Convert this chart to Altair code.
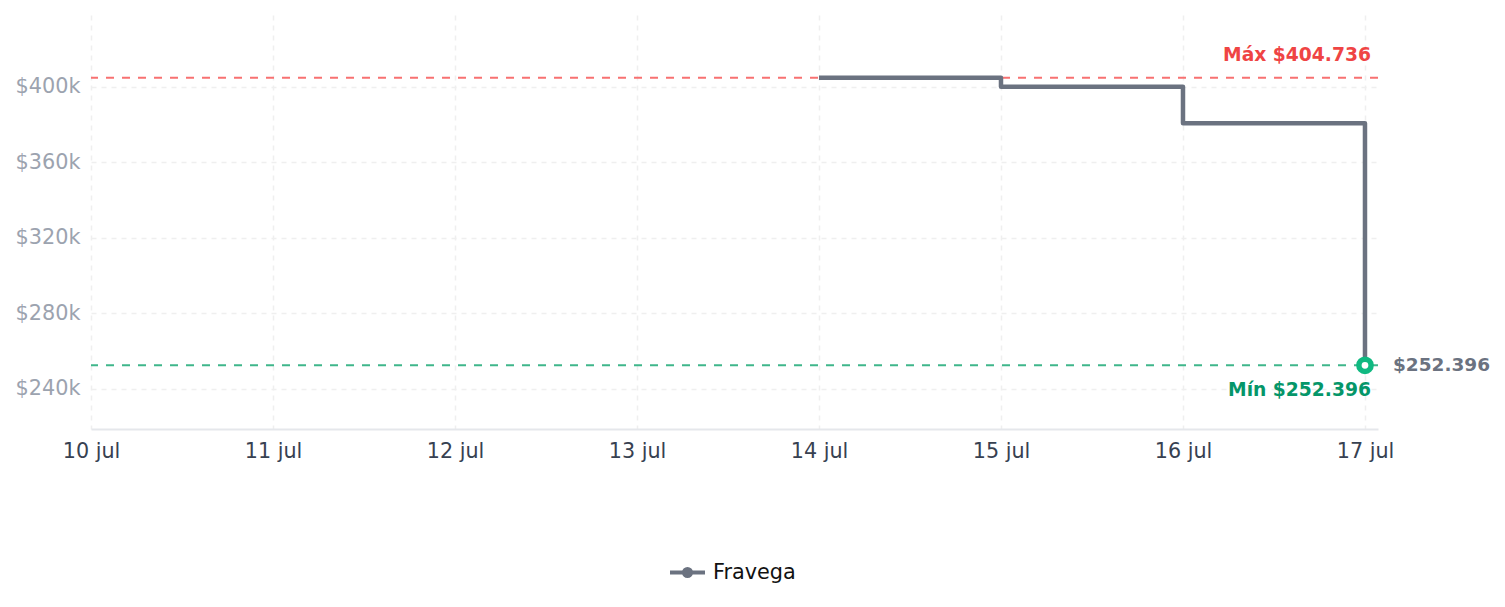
import altair as alt
import pandas as pd

# ---- data ----
dates = ["2024-07-14", "2024-07-15", "2024-07-16", "2024-07-17"]
prices = [404736, 400000, 380600, 252396]
stores = ["Fravega", "Fravega", "Fravega", "Fravega"]
y_ticks = [240000, 280000, 320000, 360000, 400000]
x_days = [10, 11, 12, 13, 14, 15, 16, 17]
y_domain = [218650, 438000]


def fmt_ars(v):
    return "$" + f"{v:,}".replace(",", ".")


df = pd.DataFrame({"date": dates, "price": prices, "store": stores})
max_v = max(prices)
min_v = min(prices)
last_date = dates[-1]
min_date = dates[prices.index(min_v)]

max_df = pd.DataFrame({"date": [last_date], "price": [max_v], "label": ["Máx " + fmt_ars(max_v)]})
min_df = pd.DataFrame({"date": [last_date], "price": [min_v], "label": ["Mín " + fmt_ars(min_v)]})
pt_df = pd.DataFrame({"date": [min_date], "price": [min_v], "label": [fmt_ars(prices[-1])]})

FONT = "DejaVu Sans"

x_scale = alt.Scale(
    type="utc",
    domain=[
        alt.DateTime(year=2024, month=7, date=10, utc=True),
        alt.DateTime(year=2024, month=7, date=17, hours=1, minutes=43, utc=True),
    ],
)
y_scale = alt.Scale(domain=y_domain, zero=False, nice=False)

x_axis = alt.Axis(
    values=[alt.DateTime(year=2024, month=7, date=d, utc=True) for d in x_days],
    labelExpr="utcFormat(datum.value, '%-d') + ' jul'",
    labelFontSize=20.7,
    labelColor="#374151",
    labelFont=FONT,
    labelPadding=12,
    labelFlush=False,
    labelOverlap=False,
    ticks=False,
    domain=True,
    domainColor="#e5e7eb",
    domainWidth=2,
    grid=True,
    gridColor="#efefef",
    gridDash=[5, 5],
    gridWidth=1.5,
    title=None,
)
y_axis = alt.Axis(
    values=y_ticks,
    labelExpr="'$' + format(datum.value / 1000, 'd') + 'k'",
    labelFontSize=20.8,
    labelColor="#9ca3af",
    labelFont=FONT,
    labelPadding=11,
    ticks=False,
    domain=False,
    grid=True,
    gridColor="#efefef",
    gridDash=[5, 5],
    gridWidth=1.5,
    title=None,
)

X = alt.X("date:T", scale=x_scale, axis=x_axis)
Y = alt.Y("price:Q", scale=y_scale, axis=y_axis)

legend_path = "M-1,0L1,0M-0.2,0A0.2,0.2,0,1,0,0.2,0A0.2,0.2,0,1,0,-0.2,0Z"

max_rule = alt.Chart(pd.DataFrame({"price": [max_v]})).mark_rule(
    color="#f87171", strokeDash=[8, 8], strokeWidth=2
).encode(y=alt.Y("price:Q", scale=y_scale))

min_rule = alt.Chart(pd.DataFrame({"price": [min_v]})).mark_rule(
    color="#3fb68b", strokeDash=[8, 8], strokeWidth=2
).encode(y=alt.Y("price:Q", scale=y_scale))

line = alt.Chart(df).mark_line(
    interpolate="step-after", strokeWidth=4.5, strokeJoin="round"
).encode(
    x=X,
    y=Y,
    color=alt.Color(
        "store:N",
        scale=alt.Scale(range=["#6b7280"]),
        legend=alt.Legend(
            title=None,
            orient="none",
            legendX=577,
            legendY=538,
            symbolType=legend_path,
            symbolSize=1225,
            symbolStrokeWidth=4,
            symbolFillColor="#6b7280",
            symbolStrokeColor="#6b7280",
            labelFontSize=20.8,
            labelColor="#111111",
            labelFont=FONT,
            labelOffset=6,
            padding=0,
        ),
    ),
)

max_text = alt.Chart(max_df).mark_text(
    align="right", baseline="middle", dx=6, dy=-23,
    fontSize=18.7, fontWeight="bold", color="#ef4444", font=FONT,
).encode(x=alt.X("date:T", scale=x_scale), y=alt.Y("price:Q", scale=y_scale), text="label:N")

min_text = alt.Chart(min_df).mark_text(
    align="right", baseline="middle", dx=6, dy=25,
    fontSize=18.7, fontWeight="bold", color="#059669", font=FONT,
).encode(x=alt.X("date:T", scale=x_scale), y=alt.Y("price:Q", scale=y_scale), text="label:N")

min_point = alt.Chart(pt_df).mark_point(
    shape="circle", filled=False, fill="white", fillOpacity=1, opacity=1,
    size=150, strokeWidth=5.5, color="#10b981",
).encode(x=alt.X("date:T", scale=x_scale), y=alt.Y("price:Q", scale=y_scale))

last_text = alt.Chart(pt_df).mark_text(
    align="left", baseline="middle", dx=28, dy=0,
    fontSize=18.5, fontWeight="bold", color="#6b7280", font=FONT,
).encode(x=alt.X("date:T", scale=x_scale), y=alt.Y("price:Q", scale=y_scale), text="label:N")

chart = alt.layer(
    max_rule, min_rule, line, max_text, min_text, min_point, last_text
).properties(
    width=1287,
    height=414,
    autosize=alt.AutoSizeParams(type="none"),
    padding={"left": 91, "top": 15, "right": 127, "bottom": 178},
).configure(
    font=FONT, background="white"
).configure_view(strokeWidth=0, stroke="transparent")

chart.save("out.html", embed_options={"renderer": "svg", "actions": False})
